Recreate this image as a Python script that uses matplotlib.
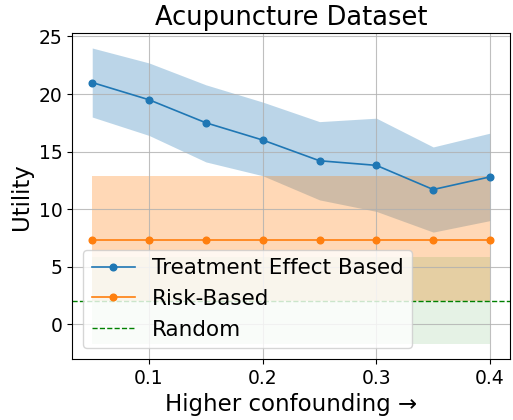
import numpy as np
import matplotlib
matplotlib.use('Agg')
import matplotlib.pyplot as plt

# data
conf = [0.05, 0.1, 0.15, 0.2, 0.25, 0.3, 0.35, 0.4]
te_mean = [21.0, 19.5, 17.5, 16.0, 14.2, 13.8, 11.7, 12.8]
te_upper = [24.0, 22.7, 20.8, 19.3, 17.6, 17.9, 15.4, 16.6]
te_lower = [18.0, 16.4, 14.1, 12.9, 10.8, 9.8, 8.0, 9.0]
risk_mean = [7.3] * 8
risk_upper = [12.9] * 8
risk_lower = [2.0] * 8
random_mean = 2.0
random_upper = [5.85] * 8
random_lower = [-1.75] * 8

fig, ax = plt.subplots(figsize=(5.13, 4.2), dpi=100)
fig.subplots_adjust(left=0.141, right=0.994, top=0.921, bottom=0.145)

ax.plot(conf, te_mean, marker='o', markersize=4.8, linewidth=1.2, color='C0', label='Treatment Effect Based')
ax.fill_between(conf, te_lower, te_upper, color='C0', alpha=0.3, linewidth=0)
ax.plot(conf, risk_mean, marker='o', markersize=4.8, linewidth=1.2, color='C1', label='Risk-Based')
ax.fill_between(conf, risk_lower, risk_upper, color='C1', alpha=0.3, linewidth=0)
ax.axhline(random_mean, color='green', linestyle='--', linewidth=1, label='Random')
ax.fill_between(conf, random_lower, random_upper, color='green', alpha=0.1, linewidth=0)

ax.set_title('Acupuncture Dataset', fontsize=18.5)
ax.set_xlabel('Higher confounding \u2192', fontsize=16.5)
ax.set_ylabel('Utility', fontsize=16.5)
ax.tick_params(labelsize=13.5)
ax.grid(True, alpha=0.8)
ax.legend(loc='lower left', fontsize=15.5)

plt.savefig('out.png')
